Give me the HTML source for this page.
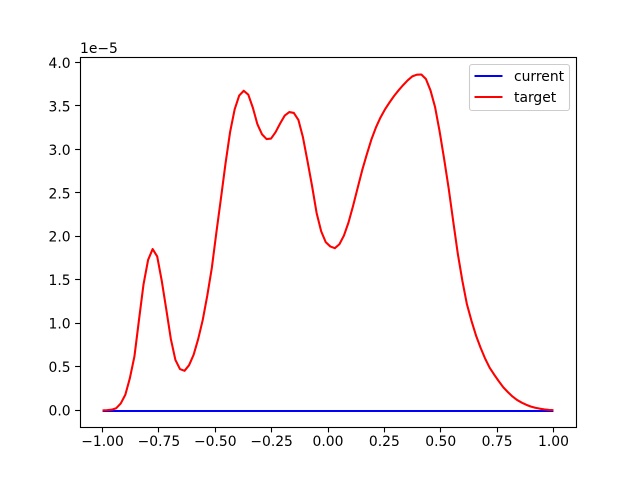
<!DOCTYPE html>
<html>
<head>
<meta charset="utf-8">
<title>current vs target</title>
<style>
  html, body { margin: 0; padding: 0; background: #fff; }
  svg { display: block; }
  text { font-family: "DejaVu Sans", "Liberation Sans", sans-serif; font-size: 13.89px; fill: #000; }
</style>
</head>
<body>
<svg id="chart" xmlns="http://www.w3.org/2000/svg" width="640" height="480" viewBox="0 0 640 480">
  <rect x="0" y="0" width="640" height="480" fill="#fff"/>
  <rect x="80" y="57.6" width="496" height="369.6" fill="#fff"/>
  <g id="series"></g>
  <g id="ticks"></g>
  <rect x="80.5" y="57.5" width="496" height="370" fill="none" stroke="#000" stroke-width="1.11"/>
  <text x="80" y="53">1e−5</text>
  <g>
    <rect x="469.5" y="64.5" width="100" height="46" rx="2.5" fill="#fff" fill-opacity="0.8" stroke="#ccc" stroke-width="1.11"/>
    <line x1="474.5" x2="502.5" y1="76" y2="76" stroke="#0000ff" stroke-width="2.08"/>
    <text x="514" y="81">current</text>
    <line x1="474.5" x2="502.5" y1="97" y2="97" stroke="#ff0000" stroke-width="2.08"/>
    <text x="514" y="102">target</text>
  </g>
</svg>
<script>
const targetX = [-1,-0.9798,-0.9596,-0.9394,-0.9192,-0.899,-0.8788,-0.8586,-0.8384,-0.8182,
  -0.798,-0.7778,-0.7576,-0.7374,-0.7172,-0.697,-0.6768,-0.6566,-0.6364,-0.6162,
  -0.596,-0.5758,-0.5556,-0.5354,-0.5152,-0.4949,-0.4747,-0.4545,-0.4343,-0.4141,
  -0.3939,-0.3737,-0.3535,-0.3333,-0.3131,-0.2929,-0.2727,-0.2525,-0.2323,-0.2121,
  -0.1919,-0.1717,-0.1515,-0.1313,-0.1111,-0.0909,-0.0707,-0.0505,-0.0303,-0.0101,
  0.0101,0.0303,0.0505,0.0707,0.0909,0.1111,0.1313,0.1515,0.1717,0.1919,
  0.2121,0.2323,0.2525,0.2727,0.2929,0.3131,0.3333,0.3535,0.3737,0.3939,
  0.4141,0.4343,0.4545,0.4747,0.4949,0.5152,0.5354,0.5556,0.5758,0.596,
  0.6162,0.6364,0.6566,0.6768,0.697,0.7172,0.7374,0.7576,0.7778,0.798,
  0.8182,0.8384,0.8586,0.8788,0.899,0.9192,0.9394,0.9596,0.9798,1];
const targetY = [0,0.002,0.008,0.025,0.08,0.18,0.37,0.62,1.04,1.45,
  1.73,1.855,1.77,1.49,1.16,0.82,0.58,0.475,0.455,0.52,
  0.64,0.82,1.04,1.32,1.64,2.05,2.44,2.84,3.2,3.46,
  3.62,3.675,3.63,3.48,3.29,3.175,3.12,3.125,3.2,3.3,
  3.39,3.43,3.42,3.34,3.14,2.865,2.58,2.27,2.06,1.935,
  1.885,1.865,1.91,2.01,2.16,2.35,2.555,2.76,2.94,3.11,
  3.25,3.365,3.46,3.54,3.615,3.68,3.74,3.795,3.84,3.86,
  3.862,3.81,3.68,3.49,3.21,2.89,2.55,2.17,1.8,1.49,
  1.22,1.03,0.86,0.72,0.595,0.49,0.41,0.335,0.265,0.21,
  0.16,0.12,0.09,0.065,0.045,0.03,0.02,0.012,0.006,0.003];
const currentX = [-1.0,-0.5,0.0,0.5,1.0];
const currentY = [0.0,0.0,0.0,0.0,0.0];
const xTickValues = [-1.0,-0.75,-0.5,-0.25,0.0,0.25,0.5,0.75,1.0];
const xTickLabels = ["−1.00","−0.75","−0.50","−0.25","0.00","0.25","0.50","0.75","1.00"];
const yTickValues = [0.0,0.5,1.0,1.5,2.0,2.5,3.0,3.5,4.0];
const yTickLabels = ["0.0","0.5","1.0","1.5","2.0","2.5","3.0","3.5","4.0"];

const NS = "http://www.w3.org/2000/svg";
const plot = { left: 80, right: 576, top: 57.6, bottom: 427.2 };
const xDomain = [-1.1, 1.1];
const yDomain = [-0.1932, 4.0562];

function xScale(v) {
  return plot.left + (v - xDomain[0]) / (xDomain[1] - xDomain[0]) * (plot.right - plot.left);
}
function yScale(v) {
  return plot.bottom - (v - yDomain[0]) / (yDomain[1] - yDomain[0]) * (plot.bottom - plot.top);
}
function snap(p) {
  return Math.floor(p) + 0.5;
}
function pointsOf(xs, ys) {
  return xs.map(function (x, i) { return xScale(x).toFixed(2) + "," + yScale(ys[i]).toFixed(2); }).join(" ");
}

const seriesGroup = document.getElementById("series");
const tickGroup = document.getElementById("ticks");

const currentLine = document.createElementNS(NS, "polyline");


currentLine.setAttribute("points", pointsOf(currentX, currentY));
currentLine.setAttribute("transform", "translate(0,0.6)");
currentLine.setAttribute("fill", "none");
currentLine.setAttribute("stroke", "#0000ff");
currentLine.setAttribute("stroke-width", "2.08");
seriesGroup.appendChild(currentLine);

const targetLine = document.createElementNS(NS, "polyline");


targetLine.setAttribute("points", pointsOf(targetX, targetY));
targetLine.setAttribute("fill", "none");
targetLine.setAttribute("stroke", "#ff0000");
targetLine.setAttribute("stroke-width", "2.08");
targetLine.setAttribute("stroke-linejoin", "round");
seriesGroup.appendChild(targetLine);

xTickValues.forEach(function (v, i) {
  const px = snap(xScale(v));
  const mark = document.createElementNS(NS, "line");
  
  
  mark.setAttribute("x1", px);
  mark.setAttribute("x2", px);
  mark.setAttribute("y1", 427.5);
  mark.setAttribute("y2", 432.4);
  mark.setAttribute("stroke", "#000");
  mark.setAttribute("stroke-width", "1.11");
  tickGroup.appendChild(mark);
  const label = document.createElementNS(NS, "text");
  
  
  label.setAttribute("x", xScale(v));
  label.setAttribute("y", 446);
  label.setAttribute("text-anchor", "middle");
  label.textContent = xTickLabels[i];
  tickGroup.appendChild(label);
});

yTickValues.forEach(function (v, i) {
  const py = snap(yScale(v));
  const mark = document.createElementNS(NS, "line");
  
  
  mark.setAttribute("x1", 75.1);
  mark.setAttribute("x2", 80.5);
  mark.setAttribute("y1", py);
  mark.setAttribute("y2", py);
  mark.setAttribute("stroke", "#000");
  mark.setAttribute("stroke-width", "1.11");
  tickGroup.appendChild(mark);
  const label = document.createElementNS(NS, "text");
  
  
  label.setAttribute("x", 70.6);
  label.setAttribute("y", yScale(v) + 5.3);
  label.setAttribute("text-anchor", "end");
  label.textContent = yTickLabels[i];
  tickGroup.appendChild(label);
});
</script>
</body>
</html>
